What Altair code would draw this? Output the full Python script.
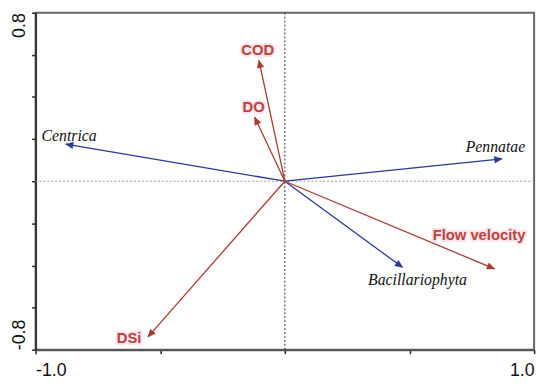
import altair as alt
import pandas as pd
import math

# Species arrows (blue)
species = ["Centrica", "Pennatae", "Bacillariophyta"]
sp_x = [-0.879, 0.871, 0.472]
sp_y = [0.176, 0.106, -0.409]
sp_lx = [-0.976, 0.964, 0.532]
sp_ly = [0.215, 0.164, -0.468]
sp_align = ["left", "right", "center"]

# Environmental arrows (red)
env = ["COD", "DO", "Flow velocity", "DSi"]
env_x = [-0.104, -0.121, 0.841, -0.549]
env_y = [0.574, 0.304, -0.416, -0.739]
env_lx = [-0.109, -0.125, 0.779, -0.625]
env_ly = [0.625, 0.351, -0.257, -0.744]

x_ticks = [-1.0, -0.5, 0.0, 0.5, 1.0]
y_ticks = [-0.8, -0.6, -0.4, -0.2, 0.0, 0.2, 0.4, 0.6, 0.8]

W, H = 506, 342
SX, SY = W / 2.0, H / 1.6

def ang(x, y):
    return (math.degrees(math.atan2(x * SX, y * SY)) + 360) % 360

sp = pd.DataFrame({"name": species, "x": sp_x, "y": sp_y, "lx": sp_lx, "ly": sp_ly,
                   "align": sp_align, "x0": 0.0, "y0": 0.0})
sp["angle"] = [ang(a, b) for a, b in zip(sp_x, sp_y)]
ev = pd.DataFrame({"name": env, "x": env_x, "y": env_y, "lx": env_lx, "ly": env_ly,
                   "x0": 0.0, "y0": 0.0})
ev["angle"] = [ang(a, b) for a, b in zip(env_x, env_y)]

BLUE = "#2b3990"
RED = "#a8392f"
TXTRED = "#b5473a"
PINK = "#fde0ee"

xs = alt.Scale(domain=[-1, 1], nice=False, zero=False)
ys = alt.Scale(domain=[-0.8, 0.8], nice=False, zero=False)

xaxis = alt.Axis(values=x_ticks, title=None, grid=False,
                 labelExpr="datum.value == 1 ? '1.0' : (datum.value == -1 ? '-1.0' : '')",
                 labelFlush=True, labelFontSize=18, labelFont="Liberation Sans",
                 labelColor="#111", domainColor="#555", domainWidth=2,
                 tickColor="#222", tickSize=4, tickWidth=1.5, labelPadding=8)
yaxis = alt.Axis(values=y_ticks, title=None, grid=False,
                 labelExpr="abs(datum.value - 0.8) < 0.001 ? '0.8' : (abs(datum.value + 0.8) < 0.001 ? '-0.8' : '')",
                 labelAngle=270,
                 labelAlign=alt.expr("datum.value > 0 ? 'right' : 'left'"),
                 labelBaseline="bottom",
                 labelFontSize=18, labelFont="Liberation Sans",
                 labelColor="#111", domainColor="#333", domainWidth=2,
                 tickColor="#222", tickSize=4, tickWidth=1.5, labelPadding=3)

zero = pd.DataFrame({"v": [0.0]})
vline = alt.Chart(zero).mark_rule(color="#333", strokeDash=[2, 2], strokeWidth=1).encode(
    x=alt.X("v:Q", scale=xs, axis=xaxis))
hline = alt.Chart(zero).mark_rule(color="#999", strokeDash=[2, 2], strokeWidth=1).encode(
    y=alt.Y("v:Q", scale=ys, axis=yaxis))

head = "M0,0 L-0.45,1 L0.45,1 Z"

def arrows(df, color):
    base = alt.Chart(df)
    line = base.mark_rule(color=color, strokeWidth=1.3).encode(
        x=alt.X("x0:Q", scale=xs), y=alt.Y("y0:Q", scale=ys),
        x2="x:Q", y2="y:Q")
    tip = base.mark_point(shape=head, filled=True, fill=color, stroke=color,
                          strokeWidth=0.5, size=220, opacity=1).encode(
        x=alt.X("x:Q", scale=xs), y=alt.Y("y:Q", scale=ys),
        angle=alt.Angle("angle:Q", scale=None))
    return line + tip

sp_labels = []
for a in ["left", "right", "center"]:
    sub = sp[sp["align"] == a]
    sp_labels.append(alt.Chart(sub).mark_text(
        font="Liberation Serif", fontStyle="italic", fontSize=16, color="#111",
        align=a, baseline="middle").encode(
        x=alt.X("lx:Q", scale=xs), y=alt.Y("ly:Q", scale=ys), text="name:N"))

halo = alt.Chart(ev).mark_text(
    font="Liberation Sans", fontWeight="bold", fontSize=15, color=PINK,
    stroke=PINK, strokeWidth=4, strokeJoin="round", baseline="middle").encode(
    x=alt.X("lx:Q", scale=xs), y=alt.Y("ly:Q", scale=ys), text="name:N")
env_text = alt.Chart(ev).mark_text(
    font="Liberation Sans", fontWeight="bold", fontSize=15, color=TXTRED,
    baseline="middle").encode(
    x=alt.X("lx:Q", scale=xs), y=alt.Y("ly:Q", scale=ys), text="name:N")

chart = alt.layer(
    vline, hline, halo,
    arrows(sp, BLUE), arrows(ev, RED),
    *sp_labels, env_text
).properties(
    width=W, height=H,
    autosize=alt.AutoSizeParams(type="none"),
    padding={"left": 28, "top": 2, "right": 8, "bottom": 32},
    background="white"
).configure_view(stroke="#666", strokeWidth=2)

chart.save("out.html", embed_options={"renderer": "svg", "actions": False})
